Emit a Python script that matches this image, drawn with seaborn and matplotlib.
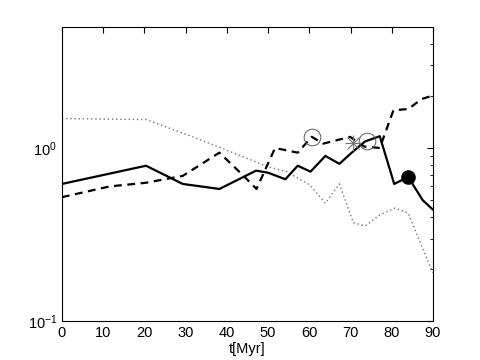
import numpy as np
import pandas as pd
import matplotlib
matplotlib.use('Agg')
import matplotlib.pyplot as plt
import seaborn as sns

sns.set_style("white")
plt.rcParams['font.family'] = ['Liberation Sans', 'DejaVu Sans']

# solid line
t_solid = [0, 20.4, 29.3, 38.2, 47.1, 50.0, 54.2, 57.2, 60.3, 63.9, 67.3, 70.3, 73.5, 77.1, 80.6, 84.0, 87.5, 90]
v_solid = [0.62, 0.79, 0.62, 0.58, 0.74, 0.72, 0.66, 0.79, 0.73, 0.90, 0.81, 0.94, 1.09, 1.17, 0.62, 0.68, 0.50, 0.44]

# dashed line
t_dash = [0, 11.6, 20.4, 29.3, 38.2, 43.8, 47.2, 51.7, 57.2, 60.6, 63.4, 69.9, 73.3, 77.1, 80.4, 84.0, 87.3, 90]
v_dash = [0.52, 0.60, 0.63, 0.69, 0.94, 0.70, 0.58, 1.00, 0.94, 1.16, 1.06, 1.16, 1.02, 1.00, 1.65, 1.68, 1.92, 2.01]

# dotted line
t_dot = [0, 20.4, 29.3, 38.2, 47.1, 50.0, 54.5, 60.2, 63.9, 67.3, 70.7, 73.6, 77.1, 80.8, 84.0, 87.3, 90]
v_dot = [1.48, 1.46, 1.22, 1.01, 0.83, 0.78, 0.73, 0.61, 0.48, 0.62, 0.37, 0.355, 0.41, 0.45, 0.42, 0.27, 0.19]

# markers
t_open = [60.6, 73.9]
v_open = [1.16, 1.10]
t_star = [70.5]
v_star = [1.07]
t_fill = [84.0]
v_fill = [0.68]

fig = plt.figure(figsize=(4.8, 3.6), dpi=100)
ax = fig.add_axes([0.129, 0.108, 0.773, 0.817])

sns.lineplot(x=t_dot, y=v_dot, ax=ax, color='0.45', linestyle=(0, (1, 2)), linewidth=1.0, sort=False)
sns.lineplot(x=t_dash, y=v_dash, ax=ax, color='black', linestyle=(0, (3.5, 2.5)), linewidth=1.6, sort=False)
sns.lineplot(x=t_solid, y=v_solid, ax=ax, color='black', linestyle='-', linewidth=1.6, sort=False)

ax.plot(t_open, v_open, 'o', mfc='none', mec='0.35', ms=12, mew=0.7)
ax.plot(t_star, v_star, '+', color='0.45', ms=11, mew=0.8)
ax.plot(t_star, v_star, 'x', color='0.45', ms=8, mew=0.8)
ax.plot(t_fill, v_fill, 'o', color='black', ms=9.5)

ax.set_yscale('log')
ax.set_xlim(0, 90)
ax.set_ylim(0.1, 5)
ax.set_xticks(np.arange(0, 91, 10))
ax.set_xlabel('t[Myr]', fontsize=10.5, labelpad=1.5, color='black')
ax.tick_params(which='both', direction='in', top=True, right=True, labelsize=10.5,
               color='black', labelcolor='black')
ax.tick_params(which='major', length=4)
ax.tick_params(which='minor', length=2.5)
for s in ax.spines.values():
    s.set_linewidth(0.8)
    s.set_color('black')

fig.savefig('out.png', dpi=100)
